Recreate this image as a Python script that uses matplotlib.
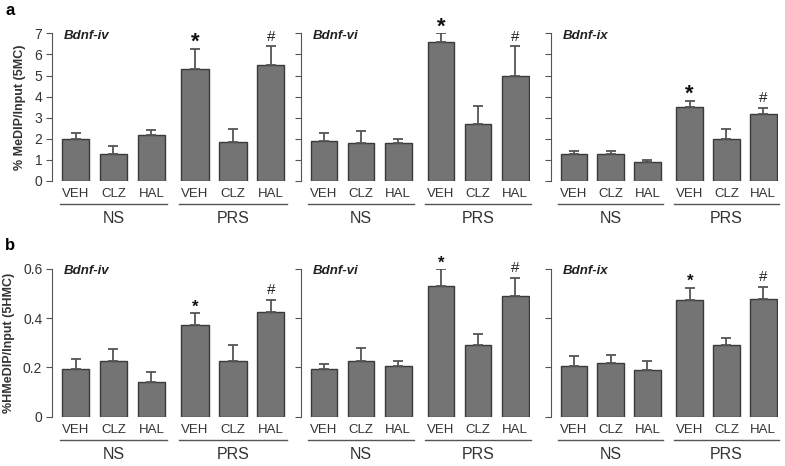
import matplotlib
matplotlib.use("Agg")
import matplotlib.pyplot as plt
import numpy as np

plt.rcParams['font.family'] = ['Liberation Sans', 'DejaVu Sans']

groups = ["VEH", "CLZ", "HAL", "VEH", "CLZ", "HAL"]
genes = ["Bdnf-iv", "Bdnf-vi", "Bdnf-ix"]

# row a: % MeDIP/Input (5MC)
mc_mean = [[1.97, 1.26, 2.16, 5.32, 1.83, 5.51],
           [1.89, 1.80, 1.80, 6.58, 2.72, 5.00],
           [1.30, 1.30, 0.92, 3.50, 1.98, 3.17]]
mc_err = [[0.29, 0.40, 0.26, 0.94, 0.62, 0.87],
          [0.38, 0.56, 0.18, 0.42, 0.83, 1.38],
          [0.14, 0.14, 0.08, 0.30, 0.48, 0.31]]
# row b: %HMeDIP/Input (5HMC)
hmc_mean = [[0.192, 0.228, 0.141, 0.373, 0.228, 0.424],
            [0.193, 0.228, 0.204, 0.530, 0.290, 0.489],
            [0.204, 0.220, 0.188, 0.473, 0.290, 0.478]]
hmc_err = [[0.041, 0.046, 0.042, 0.047, 0.065, 0.049],
           [0.023, 0.050, 0.024, 0.070, 0.046, 0.075],
           [0.042, 0.030, 0.040, 0.051, 0.030, 0.048]]
# significance marks: (bar index, symbol)
marks = [(3, "*"), (5, "#")]

pos = np.array([0, 1, 2, 3.15, 4.15, 5.15])
W, H = 785, 466
fig = plt.figure(figsize=(7.85, 4.66), dpi=100)

lefts = [52, 301, 551]
widths = [234, 229, 227]
rows = [(181, 147.7, mc_mean, mc_err, 7, np.arange(0, 8), ["0", "1", "2", "3", "4", "5", "6", "7"],
         "% MeDIP/Input (5MC)", 16, "a"),
        (416.7, 147.7, hmc_mean, hmc_err, 0.6, [0, 0.2, 0.4, 0.6], ["0", "0.2", "0.4", "0.6"],
         "%HMeDIP/Input (5HMC)", 12, "b")]

txt = "#333333"
for (ybot, hgt, means, errs, ymax, yt, ytl, ylab, starsize, letter) in rows:
    for k in range(3):
        ax = fig.add_axes([lefts[k] / W, 1 - ybot / H, widths[k] / W, hgt / H])
        ax.bar(pos, means[k], width=0.72, color="#747474", edgecolor="#3a3a3a", linewidth=1.0,
               yerr=[np.zeros(6), errs[k]], error_kw=dict(ecolor="#555555", elinewidth=1.3,
                                                         capsize=3.5, capthick=1.3))
        ax.set_xlim(-0.62, 5.55)
        ax.set_ylim(0, ymax)
        for s in ["top", "right", "bottom"]:
            ax.spines[s].set_visible(False)
        ax.spines["left"].set_color("#555555")
        ax.set_yticks(yt)
        if k == 0:
            ax.set_yticklabels(ytl, fontsize=10, color=txt)
            ax.set_ylabel(ylab, fontsize=9, fontweight="bold", color=txt, labelpad=6)
        else:
            ax.set_yticklabels([])
        ax.tick_params(axis="y", length=4, color="#555555", pad=3)
        ax.set_xticks(pos)
        ax.set_xticklabels(groups, fontsize=9.5, color=txt)
        ax.tick_params(axis="x", length=0, pad=5)
        ax.text(0.05, 1.025, genes[k], transform=ax.transAxes, fontsize=9.5,
                fontweight="bold", style="italic", va="top", ha="left", color="#222222")
        tr = ax.get_xaxis_transform()
        for a, b, name in [(pos[0] - 0.42, pos[2] + 0.42, "NS"), (pos[3] - 0.42, pos[5] + 0.42, "PRS")]:
            ax.plot([a, b], [-0.157, -0.157], transform=tr, color="#555555", lw=1.0, clip_on=False)
            ax.text((a + b) / 2, -0.255, name, transform=tr, ha="center", va="center",
                    fontsize=11.5, color=txt)
        for i, sym in marks:
            top = means[k][i] + errs[k][i]
            if sym == "*":
                ax.annotate(sym, xy=(pos[i], top), xytext=(0, -3 if starsize > 14 else -1),
                            textcoords="offset points", ha="center", va="bottom",
                            fontsize=starsize, fontweight="bold", color="#111111",
                            annotation_clip=False)
            else:
                ax.annotate(sym, xy=(pos[i], top), xytext=(0, 2), textcoords="offset points",
                            ha="center", va="bottom", fontsize=11, color="#222222",
                            annotation_clip=False)
    fig.text(5 / W, 1 - (ybot - hgt - 23) / H, letter, fontsize=12, fontweight="bold",
             va="center", ha="left")

fig.savefig("out.png", dpi=100)
